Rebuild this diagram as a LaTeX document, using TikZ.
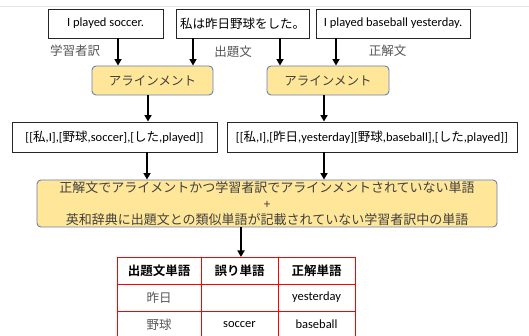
\documentclass[tikz,border=0pt]{standalone}
\usepackage{fontspec}
\setmainfont{Carlito}
\newfontfamily\jp{Noto Sans CJK JP}[BoldFont={Noto Sans CJK JP Bold}]
\usetikzlibrary{arrows.meta}
\definecolor{boxfill}{HTML}{FFE699}
\definecolor{boxline}{HTML}{6A80AC}
\definecolor{txtgray}{HTML}{404040}
\definecolor{lblgray}{HTML}{555555}
\begin{document}
\begin{tikzpicture}[x=1pt,y=-1pt,
  sbox/.style={draw=black!85,line width=0.9pt,fill=white,inner sep=0pt,font=\fontsize{12.5}{14}\selectfont,text=black},
  abox/.style={draw=boxline,line width=0.9pt,fill=boxfill,rounded corners=4pt,inner sep=0pt,font=\jp\fontsize{12.5}{14}\selectfont,text=txtgray},
  lbl/.style={inner sep=0pt,font=\jp\fontsize{12.5}{14}\selectfont,text=lblgray},
  arr/.style={line width=1.8pt,-{Triangle[width=7pt,length=6.5pt]}},
  cell/.style={inner sep=0pt,font=\fontsize{12.5}{14}\selectfont},
  tline/.style={draw=red,line width=0.9pt}
]
\useasboundingbox (0,0) rectangle (529,336);
\draw[black!10,line width=1pt] (0,6.5) -- (529,6.5);

\node[sbox,minimum width=115pt,minimum height=29pt] (s1) at (105.5,23.5) {I played soccer.};
\node[sbox,minimum width=133pt,minimum height=29pt,font=\jp\fontsize{12.5}{14}\selectfont] (s2) at (242.5,23.5) {私は昨日野球をした。};
\node[sbox,minimum width=154pt,minimum height=29pt] (s3) at (393,23.5) {I played baseball yesterday.};

\node[lbl] (l1) at (75,51) {学習者訳};
\node[lbl] (l2) at (233,52) {出題文};
\node[lbl] (l3) at (387.5,51) {正解文};

\node[abox,minimum width=121pt,minimum height=29pt] (a1) at (152.5,80.5) {アラインメント};
\node[abox,minimum width=122pt,minimum height=29pt] (a2) at (328,80.5) {アラインメント};

\node[sbox,minimum width=205pt,minimum height=30pt] (r1) at (114.5,137) {[[{\jp 私},I],[{\jp 野球},soccer],[{\jp した},played]]};
\node[sbox,minimum width=290pt,minimum height=30pt] (r2) at (372,137) {[[{\jp 私},I],[{\jp 昨日},yesterday][{\jp 野球},baseball],[{\jp した},played]]};

\node[abox,minimum width=460pt,minimum height=47pt,align=center,font=\jp\fontsize{13}{16}\selectfont] (big) at (267,203.5)
 {正解文でアライメントかつ学習者訳でアラインメントされていない単語\\{\rmfamily\fontsize{13}{16}\selectfont +}\\英和辞典に出題文との類似単語が記載されていない学習者訳中の単語};

% table
\coordinate (t0) at (117,257);
\node[cell,minimum width=84pt,minimum height=27pt,font=\jp\bfseries\fontsize{12.5}{14}\selectfont] (h1) at (159,270.5) {出題文単語};
\node[cell,minimum width=77pt,minimum height=27pt,font=\jp\bfseries\fontsize{12.5}{14}\selectfont] (h2) at (239.5,270.5) {誤り単語};
\node[cell,minimum width=77pt,minimum height=27pt,font=\jp\bfseries\fontsize{12.5}{14}\selectfont] (h3) at (316.5,270.5) {正解単語};
\node[cell,minimum width=84pt,minimum height=27pt,font=\jp\fontsize{12.5}{14}\selectfont,text=lblgray] (c11) at (159,297.5) {昨日};
\node[cell,minimum width=77pt,minimum height=27pt] (c12) at (239.5,297.5) {};
\node[cell,minimum width=77pt,minimum height=27pt] (c13) at (316.5,297.5) {yesterday};
\node[cell,minimum width=84pt,minimum height=27pt,font=\jp\fontsize{12.5}{14}\selectfont,text=lblgray] (c21) at (159,324.5) {野球};
\node[cell,minimum width=77pt,minimum height=27pt] (c22) at (239.5,324.5) {soccer};
\node[cell,minimum width=77pt,minimum height=27pt] (c23) at (316.5,324.5) {baseball};
\draw[tline] (117,257) rectangle (355,338);
\draw[tline] (117,284) -- (355,284);
\draw[tline] (117,311) -- (355,311);
\draw[tline] (201,257) -- (201,338);
\draw[tline] (278,257) -- (278,338);

% arrows
\draw[arr] ([xshift=12.5pt]s1.south) -- ([xshift=12.5pt]s1.south |- a1.north);
\draw[arr] ([xshift=-49.5pt]s2.south) -- ([xshift=-49.5pt]s2.south |- a1.north);
\draw[arr] ([xshift=37.5pt]s2.south) -- ([xshift=37.5pt]s2.south |- a2.north);
\draw[arr] ([xshift=-57pt]s3.south) -- ([xshift=-57pt]s3.south |- a2.north);
\draw[arr] ([xshift=-4.5pt]a1.south) -- ([xshift=-4.5pt]a1.south |- r1.north);
\draw[arr] ([xshift=-4pt]a2.south) -- ([xshift=-4pt]a2.south |- r2.north);
\draw[arr] ([xshift=32.5pt]r1.south) -- ([xshift=32.5pt]r1.south |- big.north);
\draw[arr] ([xshift=-48pt]r2.south) -- ([xshift=-48pt]r2.south |- big.north);
\draw[arr] ([xshift=-26pt]big.south) -- ([xshift=-26pt]big.south |- t0);
\end{tikzpicture}
\end{document}
